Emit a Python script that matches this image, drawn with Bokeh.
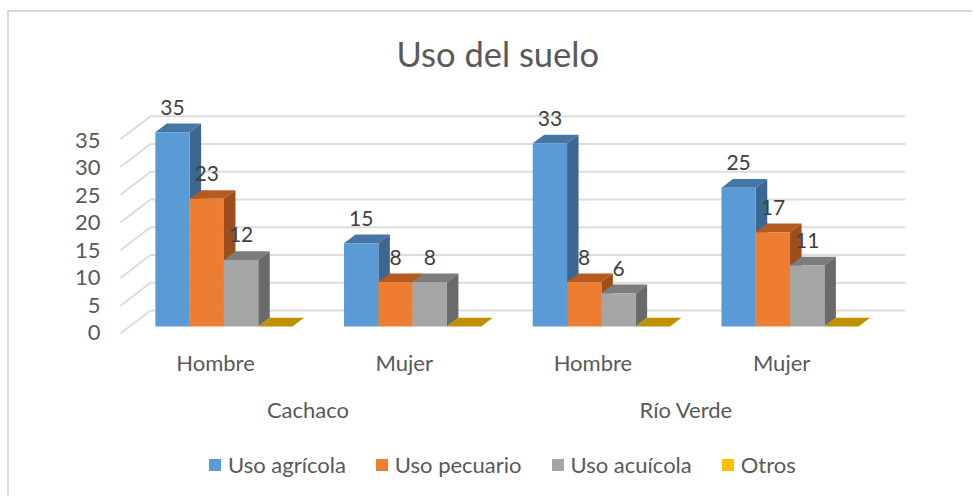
from bokeh.plotting import figure
from bokeh.embed import file_html
from bokeh.resources import INLINE
from bokeh.models import (Range1d, LinearAxis, FixedTicker, Legend, LegendItem, Title)
from bokeh.core.properties import value

FONT = "Lato"
title_text = "Uso del suelo"
groups = ["Cachaco", "Río Verde"]
categories = ["Hombre", "Mujer", "Hombre", "Mujer"]
series_names = ["Uso agrícola", "Uso pecuario", "Uso acuícola", "Otros"]
uso_agricola = [35, 15, 33, 25]
uso_pecuario = [23, 8, 8, 17]
uso_acuicola = [12, 8, 6, 11]
otros = [0, 0, 0, 0]
y_ticks = [0, 5, 10, 15, 20, 25, 30, 35]

front = ["#5b9bd5", "#ed7d31", "#a5a5a5", "#ffc000"]
top_c = ["#4676a6", "#b55a20", "#7c7c7c", "#bf9000"]
side_c = ["#3b6791", "#9c4f1c", "#6a6a6a", "#a07900"]

OX, OY = 9, 12                      # where the canvas starts on the page
W, H = 974 - OX, 497 - OY
T = 73 - OY                         # height of the title panel
PX_X = 188.7                        # px per category
PX_Y = 5.55                         # px per value unit
X0 = 215 - OX                       # frame px of category 0
Y0 = 326 - OY - T                   # frame px of value 0
fw, fh = W, H - T

p = figure(width=W, height=H, output_backend="svg", toolbar_location=None,
           min_border_left=0, min_border_right=0, min_border_top=T, min_border_bottom=0,
           x_range=Range1d(-X0 / PX_X, (fw - X0) / PX_X),
           y_range=Range1d(-(fh - Y0) / PX_Y, Y0 / PX_Y),
           outline_line_color=None, background_fill_color=None, border_fill_color="white",
           margin=(10, 0, 0, 7),
           styles={"border-top": "2px solid #d9d9d9", "border-left": "2px solid #d9d9d9"})
p.xgrid.visible = False
p.ygrid.visible = False
p.xaxis.visible = False
p.yaxis.visible = False

p.add_layout(Title(text=title_text, text_font=FONT, text_font_size="34.5px", text_color="#595959",
                   text_font_style="normal", align="left", offset=396 - OX, standoff=0), "above")

# Wall: depth offsets expressed in chart units
wall_front_x = (120 - 215) / PX_X
wall_back_x = (150 - 215) / PX_X
wall_end_x = (905 - 215) / PX_X
wall_front_dy = -7 / PX_Y
wall_back_dy = 16 / PX_Y
p.segment(x0=[wall_back_x] * len(y_ticks), x1=[wall_end_x] * len(y_ticks),
          y0=[v + wall_back_dy for v in y_ticks], y1=[v + wall_back_dy for v in y_ticks],
          line_color="#dcdcdc", line_width=2)
p.segment(x0=[wall_front_x] * len(y_ticks), x1=[wall_back_x] * len(y_ticks),
          y0=[v + wall_front_dy for v in y_ticks], y1=[v + wall_back_dy for v in y_ticks],
          line_color="#dcdcdc", line_width=2)

bw = 34.3 / PX_X
dx = 11.5 / PX_X
dy = 8.7 / PX_Y
offs = [(-43 + 34.3 * i) / PX_X for i in range(4)]
series = [uso_agricola, uso_pecuario, uso_acuicola, otros]
cats = list(range(len(categories)))

items = []
for s, vals in enumerate(series):
    cx = [c + offs[s] for c in cats]
    xl = [x - bw / 2 for x in cx]
    xr = [x + bw / 2 for x in cx]
    p.patches(xs=[[a, a + dx, b + dx, b] for a, b in zip(xl, xr)],
              ys=[[v, v + dy, v + dy, v] for v in vals],
              fill_color=top_c[s], line_color=None)
    if s < 3:
        p.patches(xs=[[b, b + dx, b + dx, b] for b in xr],
                  ys=[[0, dy, v + dy, v] for v in vals],
                  fill_color=side_c[s], line_color=None)
    r = p.vbar(x=cx, top=vals, bottom=0, width=bw, fill_color=front[s],
               line_color=None)
    items.append(LegendItem(label=series_names[s], renderers=[r]))

# Data labels (Otros has none)
for s, vals in enumerate(series[:3]):
    p.text(x=[c + offs[s] for c in cats], y=vals, text=[str(v) for v in vals],
           text_font=value(FONT), text_font_size="21px", text_color="#404040",
           text_align="center", text_baseline="middle", y_offset=-25)

# Y axis on its own scale (labels sit on the front edge of the wall)
LBL_Y = 5.49
p.extra_y_ranges["wall"] = Range1d((332 - OY - T - fh) / LBL_Y, (332 - OY - T) / LBL_Y)
ya = LinearAxis(y_range_name="wall", ticker=FixedTicker(ticks=y_ticks),
                fixed_location=(108 - 215) / PX_X,
                axis_line_color=None, major_tick_line_color=None, minor_tick_line_color=None,
                major_tick_out=0, major_tick_in=0,
                major_label_text_font=FONT, major_label_text_font_size="22px",
                major_label_text_color="#595959", major_label_standoff=8)
p.add_layout(ya, "left")

axis_y = (326 - 335) / PX_Y
xa = LinearAxis(ticker=FixedTicker(ticks=cats), fixed_location=axis_y,
                major_label_overrides={c: categories[c] for c in cats},
                axis_line_color=None, major_tick_line_color=None, minor_tick_line_color=None,
                major_tick_out=0, major_tick_in=0,
                major_label_text_font=FONT, major_label_text_font_size="22px",
                major_label_text_color="#595959", major_label_standoff=13)
p.add_layout(xa, "below")

group_pos = [0.49, 2.495]
xb = LinearAxis(ticker=FixedTicker(ticks=group_pos), fixed_location=axis_y,
                major_label_overrides={group_pos[i]: groups[i] for i in range(2)},
                axis_line_color=None, major_tick_line_color=None, minor_tick_line_color=None,
                major_tick_out=0, major_tick_in=0,
                major_label_text_font=FONT, major_label_text_font_size="22px",
                major_label_text_color="#595959", major_label_standoff=60)
p.add_layout(xb, "below")

legend = Legend(items=items, orientation="horizontal", location=(207 - OX, 19),
                glyph_width=15, glyph_height=15, label_standoff=6, spacing=28,
                label_text_font=FONT, label_text_font_size="22px", label_text_color="#595959",
                background_fill_alpha=0, border_line_color=None, padding=0, margin=0)
p.add_layout(legend, "center")

open("out.html", "w").write(file_html(p, INLINE))
